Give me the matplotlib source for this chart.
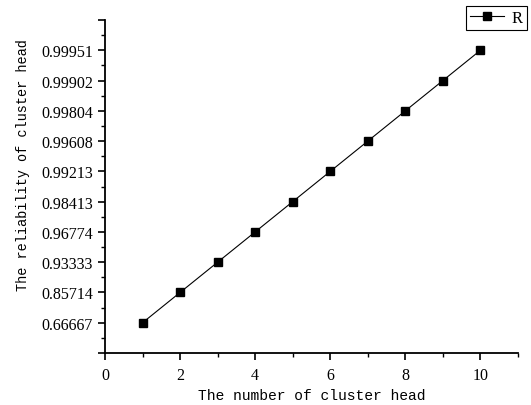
import numpy as np
import matplotlib
matplotlib.use('Agg')
import matplotlib.pyplot as plt
from matplotlib.ticker import FixedLocator, FixedFormatter

# data
cluster_heads = [1, 2, 3, 4, 5, 6, 7, 8, 9, 10]
reliability = [0.66667, 0.85714, 0.93333, 0.96774, 0.98413,
               0.99213, 0.99608, 0.99804, 0.99902, 0.99951]
y_tick_labels = ['0.66667', '0.85714', '0.93333', '0.96774', '0.98413',
                 '0.99213', '0.99608', '0.99804', '0.99902', '0.99951']

# the y axis of the reference puts the tick values at equal distances,
# so build a piecewise linear scale through them
tick_vals = np.array([float(s) for s in y_tick_labels])
tick_pos = np.arange(1, len(tick_vals) + 1, dtype=float)


def forward(v):
    v = np.asarray(v, dtype=float)
    p = np.interp(v, tick_vals, tick_pos)
    lo = v < tick_vals[0]
    hi = v > tick_vals[-1]
    p = np.where(lo, tick_pos[0] + (v - tick_vals[0]) / (tick_vals[1] - tick_vals[0]), p)
    p = np.where(hi, tick_pos[-1] + (v - tick_vals[-1]) / (tick_vals[-1] - tick_vals[-2]), p)
    return p


def inverse(p):
    p = np.asarray(p, dtype=float)
    v = np.interp(p, tick_pos, tick_vals)
    lo = p < tick_pos[0]
    hi = p > tick_pos[-1]
    v = np.where(lo, tick_vals[0] + (p - tick_pos[0]) * (tick_vals[1] - tick_vals[0]), v)
    v = np.where(hi, tick_vals[-1] + (p - tick_pos[-1]) * (tick_vals[-1] - tick_vals[-2]), v)
    return v


mono = 'Liberation Mono'
serif = 'Liberation Serif'

fig = plt.figure(figsize=(5.31, 4.06), dpi=100)
ax = fig.add_axes([105 / 531, 1 - 354 / 406, (518 - 105) / 531, (354 - 21) / 406])

ax.plot(cluster_heads, reliability, color='black', linewidth=0.8,
        marker='s', markersize=6.3, markerfacecolor='black',
        markeredgecolor='black', label='R')

ax.set_yscale('function', functions=(forward, inverse))
ax.set_xlim(0, 11)
ax.set_ylim(inverse(0.0), inverse(11.0))

# y ticks: major at every index, labels only for the data values
major_pos = np.arange(0, 12, dtype=float)
ax.yaxis.set_major_locator(FixedLocator(inverse(major_pos)))
ax.yaxis.set_major_formatter(FixedFormatter([''] + y_tick_labels + ['']))
ax.yaxis.set_minor_locator(FixedLocator(inverse(np.arange(0.5, 11, 1.0))))

ax.set_xticks([0, 2, 4, 6, 8, 10])
ax.set_xticks([1, 3, 5, 7, 9, 11], minor=True)

for s in ['top', 'right']:
    ax.spines[s].set_visible(False)
for s in ['left', 'bottom']:
    ax.spines[s].set_linewidth(1.3)

ax.tick_params(which='major', direction='out', length=5, width=1.2)
ax.tick_params(which='minor', direction='out', length=3, width=1.0)
ax.tick_params(axis='both', labelsize=11.5)
ax.tick_params(axis='x', pad=5)
for lab in ax.get_xticklabels() + ax.get_yticklabels():
    lab.set_family(serif)

ax.set_xlabel('The number of cluster head', fontsize=10.5, family=mono, labelpad=4)
ax.set_ylabel('The reliability of cluster head', fontsize=9.8, family=mono)
ax.yaxis.set_label_coords(-0.181, 0.568)

leg = ax.legend(loc='upper right', bbox_to_anchor=(527 / 531, 1 - 7 / 406),
                bbox_transform=fig.transFigure, fancybox=False, framealpha=1,
                edgecolor='black', handlelength=2.0, borderpad=0.25,
                borderaxespad=0, handletextpad=0.5,
                prop={'family': serif, 'size': 12})
leg.get_frame().set_linewidth(0.8)

fig.savefig('out.png', dpi=100)
